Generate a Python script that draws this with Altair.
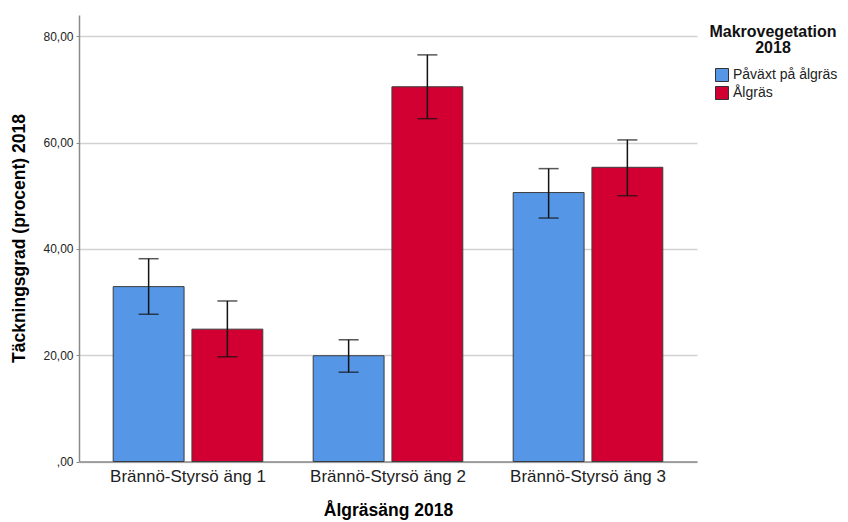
import altair as alt
import pandas as pd

# Mean coverage per meadow and vegetation type, with confidence interval bounds
sites = ["Brännö-Styrsö äng 1", "Brännö-Styrsö äng 2", "Brännö-Styrsö äng 3"]
groups = ["Påväxt på ålgräs", "Ålgräs"]

mean_pavaxt = [32.9, 19.9, 50.6]
low_pavaxt = [27.7, 16.8, 45.8]
high_pavaxt = [38.15, 22.9, 55.1]

mean_algras = [24.9, 70.5, 55.35]
low_algras = [19.7, 64.5, 50.0]
high_algras = [30.2, 76.5, 60.5]

colors = ["#5596e6", "#d20032"]

rows = []
for i, s in enumerate(sites):
    rows.append({"site": s, "group": groups[0], "mean": mean_pavaxt[i],
                 "low": low_pavaxt[i], "high": high_pavaxt[i]})
    rows.append({"site": s, "group": groups[1], "mean": mean_algras[i],
                 "low": low_algras[i], "high": high_algras[i]})
df = pd.DataFrame(rows)

x_enc = alt.X(
    "site:N",
    sort=sites,
    scale=alt.Scale(paddingInner=0, paddingOuter=0.045),
    axis=alt.Axis(
        title="Ålgräsäng 2018",
        titleFontSize=17.5,
        titleFontWeight="bold",
        titleY=40,
        labelFontSize=17,
        labelColor="#222222",
        labelPadding=7,
        ticks=False,
        domainColor="#8a8a8a",
        domainWidth=1.5,
        labelAngle=0,
    ),
)
xoff_enc = alt.XOffset(
    "group:N", sort=groups, scale=alt.Scale(paddingInner=0.1, paddingOuter=0.32)
)
y_scale = alt.Scale(domain=[0, 84], nice=False)

base = alt.Chart(df)

bars = base.mark_bar(stroke="#3c3c3c", strokeWidth=1).encode(
    x=x_enc,
    xOffset=xoff_enc,
    y=alt.Y(
        "mean:Q",
        scale=y_scale,
        axis=alt.Axis(
            values=[0, 20, 40, 60, 80],
            labelExpr="datum.value == 0 ? ',00' : replace(format(datum.value, '.2f'), '.', ',')",
            title="Täckningsgrad (procent) 2018",
            titleFontSize=17.5,
            titleFontWeight="bold",
            titleX=-51,
            titleY=223,
            labelFontSize=12,
            labelColor="#222222",
            tickSize=3,
            tickColor="#8a8a8a",
            labelPadding=3,
            grid=True,
            gridColor="#d2d2d2",
            gridWidth=1.5,
            domainColor="#8a8a8a",
            domainWidth=1.5,
        ),
    ),
    color=alt.Color(
        "group:N",
        sort=groups,
        scale=alt.Scale(domain=groups, range=colors),
        legend=alt.Legend(
            orient="none",
            legendX=630,
            legendY=9,
            title=["Makrovegetation", "2018"],
            titleFontSize=16,
            titleFontWeight="bold",
            titleColor="#111111",
            titleAlign="center",
            titleAnchor="middle",
            titleLineHeight=16,
            titlePadding=12,
            labelFontSize=14,
            labelColor="#222222",
            labelOffset=4,
            symbolType="square",
            symbolSize=169,
            symbolStrokeColor="#333333",
            symbolStrokeWidth=1,
            symbolOffset=6,
            rowPadding=0,
            padding=0,
        ),
    ),
)

whisker = base.mark_rule(color="#111111", strokeWidth=1.5).encode(
    x=x_enc,
    xOffset=xoff_enc,
    y=alt.Y("low:Q", scale=y_scale),
    y2="high:Q",
)

cap_low = base.mark_tick(color="#111111", thickness=1.5, size=20, orient="horizontal").encode(
    x=x_enc, xOffset=xoff_enc, y=alt.Y("low:Q", scale=y_scale)
)
cap_high = base.mark_tick(color="#111111", thickness=1.5, size=20, orient="horizontal").encode(
    x=x_enc, xOffset=xoff_enc, y=alt.Y("high:Q", scale=y_scale)
)

chart = (
    alt.layer(bars, whisker, cap_low, cap_high)
    .properties(
        width=618,
        height=446.5,
        autosize=alt.AutoSizeParams(type="none"),
        padding={"left": 79, "top": 15, "right": 151, "bottom": 60},
    )
    .configure(font="Liberation Sans")
    .configure_view(stroke=None)
)

chart.save("out.html", embed_options={"renderer": "svg", "actions": False})
